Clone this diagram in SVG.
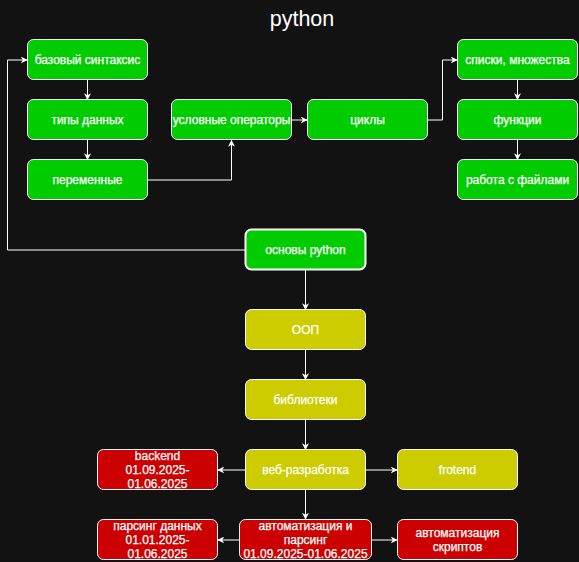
<svg xmlns="http://www.w3.org/2000/svg" width="579" height="562" viewBox="0 0 579 562">
<defs>
<marker id="ah" viewBox="0 0 10 10" refX="9" refY="5" markerWidth="7" markerHeight="7" markerUnits="userSpaceOnUse" orient="auto">
<path d="M0,0 L10,5 L0,10 L3,5 Z" fill="#ffffff"/>
</marker>
</defs>
<style>
.n rect{stroke:#ffffff;stroke-width:1}
.g rect{fill:#00cc00}
.y rect{fill:#cccc00}
.r rect{fill:#cc0000}
.n text{fill:#ffffff;font-family:"Liberation Sans",Arial,sans-serif;font-size:12px;text-anchor:middle;stroke:#ffffff;stroke-width:0.25}
.e path{fill:none;stroke:#ffffff;stroke-width:1;marker-end:url(#ah)}
</style>
<rect width="579" height="562" fill="#121212"/>
<text x="302" y="26" fill="#ffffff" font-family="'Liberation Sans',Arial,sans-serif" font-size="21.5" text-anchor="middle">python</text>
<g class="e" id="connectors">
<path d="M245.5,250 H7.5 V60 H27"/>
<path d="M87.5,80 V99.5"/>
<path d="M87.5,140 V159.5"/>
<path d="M147.5,180 H231.5 V140.5"/>
<path d="M291.5,120 H307"/>
<path d="M427.5,120 H442.5 V60 H457"/>
<path d="M517.5,80 V99.5"/>
<path d="M517.5,140 V159.5"/>
<path d="M305.5,270 V309.5"/>
<path d="M305.5,350 V379.5"/>
<path d="M305.5,420 V449.5"/>
<path d="M245.5,470 H218"/>
<path d="M365.5,470 H397"/>
<path d="M305.5,490 V519"/>
<path d="M239.5,540 H218"/>
<path d="M371.5,540 H397"/>
</g>
<g id="n1" class="n g"><rect x="27.5" y="39.5" width="120" height="40" rx="6"/><text x="87.5" y="64">базовый синтаксис</text></g>
<g id="n2" class="n g"><rect x="27.5" y="99.5" width="120" height="40" rx="6"/><text x="87.5" y="124">типы данных</text></g>
<g id="n3" class="n g"><rect x="27.5" y="159.5" width="120" height="40" rx="6"/><text x="87.5" y="184">переменные</text></g>
<g id="n4" class="n g"><rect x="171.5" y="99.5" width="120" height="40" rx="6"/><text x="231.5" y="124">условные операторы</text></g>
<g id="n5" class="n g"><rect x="307.5" y="99.5" width="120" height="40" rx="6"/><text x="367.5" y="124">циклы</text></g>
<g id="n6" class="n g"><rect x="457.5" y="39.5" width="120" height="40" rx="6"/><text x="517.5" y="64">списки, множества</text></g>
<g id="n7" class="n g"><rect x="457.5" y="99.5" width="120" height="40" rx="6"/><text x="517.5" y="124">функции</text></g>
<g id="n8" class="n g"><rect x="457.5" y="159.5" width="120" height="40" rx="6"/><text x="517.5" y="184">работа с файлами</text></g>
<g id="n9" class="n g"><rect x="245.5" y="229.5" width="120" height="40" rx="6" style="stroke-width:2"/><text x="305.5" y="254">основы python</text></g>
<g id="n10" class="n y"><rect x="245.5" y="309.5" width="120" height="40" rx="6"/><text x="305.5" y="334">ООП</text></g>
<g id="n11" class="n y"><rect x="245.5" y="379.5" width="120" height="40" rx="6"/><text x="305.5" y="404">библиотеки</text></g>
<g id="n12" class="n y"><rect x="245.5" y="449.5" width="120" height="40" rx="6"/><text x="305.5" y="474">веб-разработка</text></g>
<g id="n13" class="n r"><rect x="97.5" y="449.5" width="120" height="40" rx="6"/><text x="157.5" y="460">backend</text><text x="157.5" y="474">01.09.2025-</text><text x="157.5" y="488">01.06.2025</text></g>
<g id="n14" class="n y"><rect x="397.5" y="449.5" width="120" height="40" rx="6"/><text x="457.5" y="474">frotend</text></g>
<g id="n15" class="n r"><rect x="239.5" y="519.5" width="132" height="40" rx="6"/><text x="305.5" y="530">автоматизация и</text><text x="305.5" y="544">парсинг</text><text x="305.5" y="558">01.09.2025-01.06.2025</text></g>
<g id="n16" class="n r"><rect x="97.5" y="519.5" width="120" height="40" rx="6"/><text x="157.5" y="530">парсинг данных</text><text x="157.5" y="544">01.01.2025-</text><text x="157.5" y="558">01.06.2025</text></g>
<g id="n17" class="n r"><rect x="397.5" y="519.5" width="120" height="40" rx="6"/><text x="457.5" y="537">автоматизация</text><text x="457.5" y="551">скриптов</text></g>
</svg>
